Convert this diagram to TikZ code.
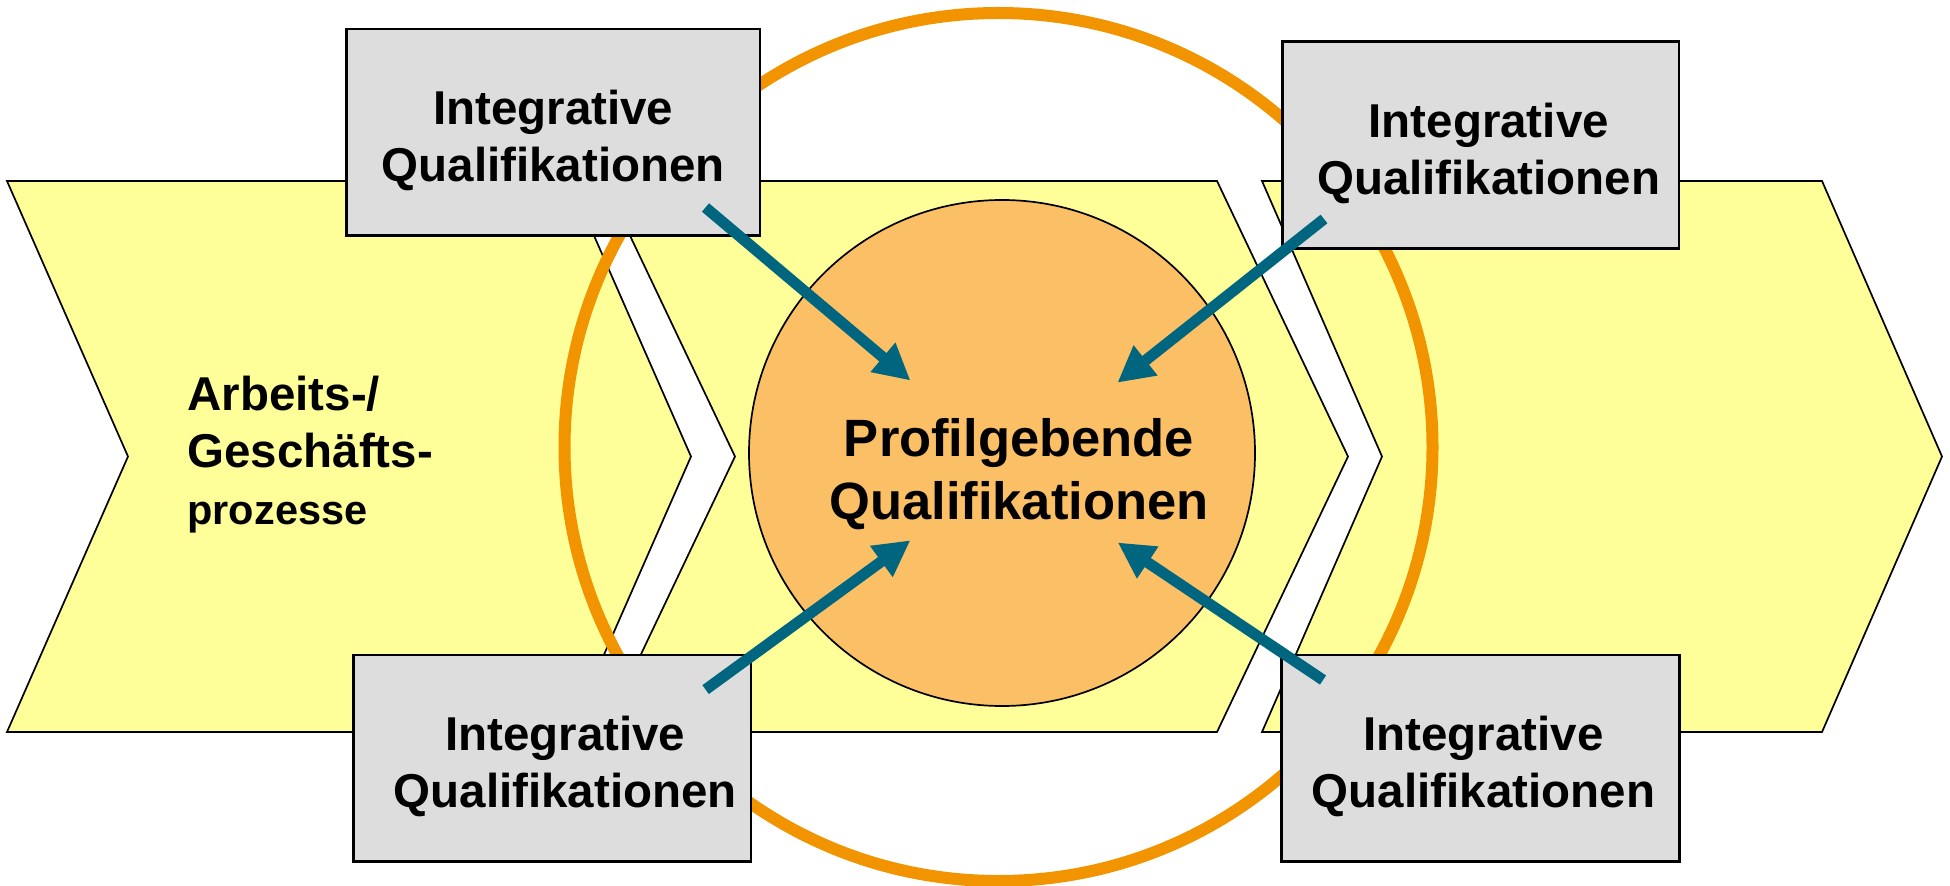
\documentclass[tikz,border=0pt]{standalone}
\usepackage{fontspec}
\setmainfont{Liberation Sans}
\usetikzlibrary{arrows.meta}
\definecolor{chevfill}{HTML}{FFFF99}
\definecolor{ringorange}{HTML}{F29400}
\definecolor{corefill}{HTML}{FBBF66}
\definecolor{boxgrey}{HTML}{DDDDDD}
\definecolor{feedteal}{HTML}{00667F}
\newcommand{\iqtext}[1]{\rule{0pt}{5.1mm}\hspace*{#1}Integrative\\\hspace*{#1}Qualifikationen}
\begin{document}
\begin{tikzpicture}[x=0.1mm,y=-0.1mm,
chevron/.style={draw=black,line width=0.17mm,fill=chevfill},
qbox/.style={draw=black,line width=0.25mm,fill=boxgrey,inner sep=0pt,minimum height=20.67mm,
  align=center,font=\bfseries\fontsize{4.75mm}{5.66mm}\selectfont},
feed/.style={draw=feedteal,line width=1.1mm,-{Triangle[length=3.6mm,width=3.6mm]}}]
\fill[white] (0,0) rectangle (1950,886);
\useasboundingbox (0,0) rectangle (1950,886);
\foreach \xa/\xb/\d in {7/570/121,604/1217/131,1262/1822/120}
{
\draw[chevron] (\xa,181) -- (\xb,181) -- (\xb+\d,456.5) -- (\xb,732) -- (\xa,732) -- (\xa+\d,456.5) -- cycle;
}
\draw[ringorange,line width=1.2mm] (998.5,447) circle[radius=434];
\draw[fill=corefill,line width=0.17mm] (1002,453) circle[radius=253];
\node[font=\bfseries\fontsize{5.25mm}{6.3mm}\selectfont,align=center,inner sep=0pt] (core) at (1019,474) {Profilgebende\\Qualifikationen};
\node[anchor=north west,inner sep=0pt,align=left,font=\bfseries\fontsize{4.75mm}{5.7mm}\selectfont] (proc) at (186.7,375.5) {Arbeits-/\\Geschäfts-\\{\fontsize{4.15mm}{5.1mm}\selectfont prozesse}};
\node[qbox,minimum width=41.33mm] (iqtl) at (553.3,132.3) {\iqtext{0mm}};
\node[qbox,minimum width=39.67mm] (iqtr) at (1480.7,145) {\iqtext{1.6mm}};
\node[qbox,minimum width=39.77mm] (iqbl) at (552.2,758.3) {\iqtext{2.6mm}};
\node[qbox,minimum width=39.76mm] (iqbr) at (1480.5,758.3) {\iqtext{0.6mm}};
\coordinate (stl) at (705.5,207.5);
\coordinate (etl) at (910.4,380.5);
\coordinate (str) at (1324,219);
\coordinate (etr) at (1117.4,382.7);
\coordinate (sbl) at (705.6,689.6);
\coordinate (ebl) at (910.4,540.3);
\coordinate (sbr) at (1323,680);
\coordinate (ebr) at (1117.8,542.5);
\foreach \p in {tl,tr,bl,br}
{
\draw[feed] (s\p) -- (e\p);
}
\end{tikzpicture}
\end{document}
